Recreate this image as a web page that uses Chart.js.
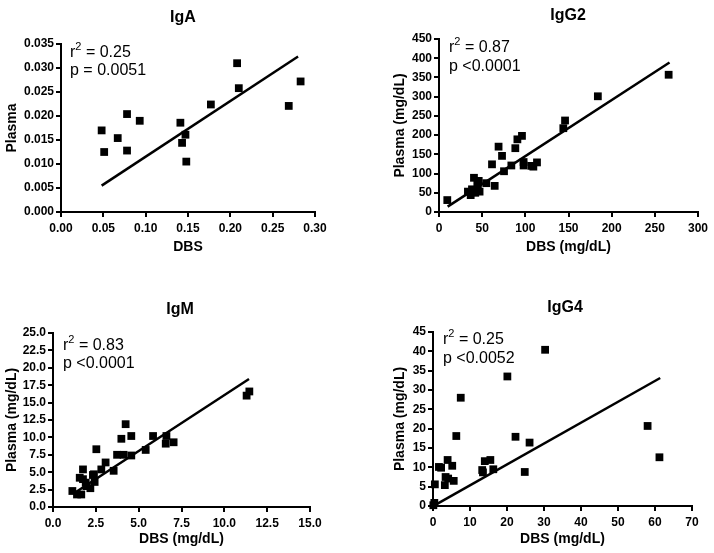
<!DOCTYPE html>
<html>
<head>
<meta charset="utf-8">
<script src="https://cdn.jsdelivr.net/npm/chart.js@4.4.1/dist/chart.umd.min.js"></script>
<style>
  body { margin: 0; background: #fff; width: 714px; height: 553px; position: relative; overflow: hidden; }
  canvas { position: absolute; }
</style>
</head>
<body>
<canvas id="cIgA" width="345" height="270" style="left:0;top:0"></canvas>
<canvas id="cIgG2" width="326" height="270" style="left:388px;top:0"></canvas>
<canvas id="cIgM" width="345" height="273" style="left:0;top:280px"></canvas>
<canvas id="cIgG4" width="326" height="273" style="left:388px;top:280px"></canvas>
<script>
// IgA
const igaDbs = [0.048, 0.051, 0.067, 0.078, 0.078, 0.093, 0.141, 0.147, 0.143, 0.148, 0.177, 0.208, 0.210, 0.269, 0.283];
const igaPlasma = [0.0170, 0.0125, 0.0154, 0.0204, 0.0128, 0.0190, 0.0186, 0.0161, 0.0144, 0.0105, 0.0224, 0.0310, 0.0258, 0.0221, 0.0272];
const igaFitX = [0.048, 0.280];
const igaFitY = [0.0055, 0.0324];

// IgG2
const igg2Dbs = [9.6, 33.5, 36.7, 38.2, 40.5, 42, 44.4, 46, 47, 45, 54.8, 61.4, 64.5, 69, 73, 75.3, 83.8, 88.4, 90.8, 96.1, 98, 98, 107, 109.3, 113.5, 144, 146, 184, 266];
const igg2Plasma = [31, 53, 44, 59, 89, 50, 73, 81, 53, 66, 75, 124, 68, 170, 146, 106, 121, 166, 189, 198, 130, 121, 120, 118, 129, 218, 238, 301, 357];
const igg2FitX = [10, 267];
const igg2FitY = [14, 389];

// IgM
const igmDbs = [1.13, 1.40, 1.65, 1.56, 1.75, 1.75, 1.91, 1.95, 2.18, 2.33, 2.43, 2.53, 2.39, 2.82, 3.07, 3.54, 3.74, 3.99, 4.12, 4.24, 4.57, 4.57, 5.41, 5.84, 6.58, 6.62, 7.04, 11.30, 11.46];
const igmPlasma = [2.3, 1.8, 1.8, 4.2, 5.4, 4.0, 3.5, 3.0, 2.7, 4.6, 3.6, 8.3, 4.7, 5.4, 6.4, 5.2, 7.5, 9.8, 7.5, 11.9, 10.2, 7.4, 8.2, 10.2, 9.1, 10.2, 9.3, 16.0, 16.6];
const igmFitX = [1.34, 11.44];
const igmFitY = [2.16, 18.4];

// IgG4
const igg4Dbs = [0.36, 0.1, 0.5, 1.6, 2.2, 3.4, 3.2, 3.95, 4.1, 5.2, 5.6, 6.3, 7.5, 13.3, 13.5, 14.0, 15.5, 16.3, 20.1, 22.3, 24.8, 26.1, 30.3, 58.0, 61.2];
const igg4Plasma = [0.8, 0.2, 5.6, 10.1, 9.9, 7.5, 5.4, 11.9, 7.1, 10.4, 6.5, 18.1, 28.0, 9.3, 8.7, 11.6, 11.9, 9.5, 33.5, 17.9, 8.8, 16.4, 40.4, 20.7, 12.6];
const igg4FitX = [0.4, 61.4];
const igg4FitY = [0.17, 33.1];

const FONT = '"Liberation Sans", Arial, Helvetica, sans-serif';

// titles, r2 and p drawn on top of each panel
const notePlugin = {
  id: 'notes',
  afterDraw(chart, args, o) {
    const { ctx, chartArea: a } = chart;
    ctx.save();
    ctx.fillStyle = '#000';
    ctx.textBaseline = 'middle';
    ctx.textAlign = 'center';
    ctx.font = 'bold 16px ' + FONT;
    ctx.fillText(o.title, o.titleX, o.titleY);

    ctx.textAlign = 'left';
    const x = a.left + o.dx;
    const y = a.top + o.dy;
    ctx.font = '16px ' + FONT;
    ctx.fillText('r', x, y);
    const w = ctx.measureText('r').width;
    ctx.font = '11px ' + FONT;
    ctx.fillText('2', x + w, y - 6);
    const w2 = ctx.measureText('2').width;
    ctx.font = '16px ' + FONT;
    ctx.fillText(' = ' + o.r2, x + w + w2, y);
    ctx.fillText(o.p, x, y + o.gap);
    ctx.restore();
  }
};

function pairs(xs, ys) {
  return xs.map((x, i) => ({ x: x, y: ys[i] }));
}

function axis(opts) {
  return {
    type: 'linear',
    min: opts.min,
    max: opts.max,
    border: { display: true, color: '#000', width: 2 },
    grid: { drawOnChartArea: false, drawTicks: true, tickLength: 5, color: '#000', lineWidth: 2 },
    ticks: {
      stepSize: opts.step,
      color: '#000',
      padding: opts.tickPad,
      maxRotation: 0,
      autoSkip: false,
      font: { family: FONT, size: 12, weight: 'bold' },
      callback: (v) => v.toFixed(opts.dec)
    },
    title: {
      display: true,
      text: opts.title,
      color: '#000',
      font: { family: FONT, size: 14, weight: 'bold' },
      padding: opts.titlePad
    },
    afterFit: opts.fit
  };
}

function makePanel(id, cfg) {
  new Chart(document.getElementById(id), {
    type: 'scatter',
    data: {
      datasets: [
        {
          data: pairs(cfg.xs, cfg.ys),
          pointStyle: 'rect',
          pointRadius: 5.5,
          pointHoverRadius: 5.5,
          backgroundColor: '#000',
          borderColor: '#000',
          borderWidth: 0,
          clip: false
        },
        {
          data: pairs(cfg.fitX, cfg.fitY),
          showLine: true,
          borderColor: '#000',
          borderWidth: 2.5,
          pointRadius: 0,
          clip: false
        }
      ]
    },
    options: {
      responsive: false,
      animation: false,
      layout: { padding: { top: cfg.area.top, right: cfg.area.right, left: 0, bottom: 0 } },
      plugins: {
        legend: { display: false },
        tooltip: { enabled: false },
        notes: cfg.note
      },
      scales: {
        x: axis({
          min: cfg.x.min, max: cfg.x.max, step: cfg.x.step, dec: cfg.x.dec, tickPad: 4,
          title: cfg.x.title, titlePad: { top: 2, bottom: cfg.x.titleBottom },
          fit: (s) => { s.height = cfg.area.h - cfg.area.bottom; }
        }),
        y: axis({
          min: cfg.y.min, max: cfg.y.max, step: cfg.y.step, dec: cfg.y.dec, tickPad: 2,
          title: cfg.y.title, titlePad: { top: 3.6, bottom: 2 },
          fit: (s) => { s.width = cfg.area.left; }
        })
      }
    },
    plugins: [notePlugin]
  });
}

makePanel('cIgA', {
  xs: igaDbs, ys: igaPlasma, fitX: igaFitX, fitY: igaFitY,
  area: { left: 61, right: 30, top: 44, bottom: 212, h: 270 },
  x: { min: 0, max: 0.30, step: 0.05, dec: 2, title: 'DBS', titleBottom: 14.6 },
  y: { min: 0, max: 0.035, step: 0.005, dec: 3, title: 'Plasma' },
  note: { title: 'IgA', titleX: 183, titleY: 18, dx: 9, dy: 9, gap: 18, r2: '0.25', p: 'p = 0.0051' }
});

makePanel('cIgG2', {
  xs: igg2Dbs, ys: igg2Plasma, fitX: igg2FitX, fitY: igg2FitY,
  area: { left: 51, right: 16, top: 39, bottom: 212, h: 270 },
  x: { min: 0, max: 300, step: 50, dec: 0, title: 'DBS (mg/dL)', titleBottom: 14.6 },
  y: { min: 0, max: 450, step: 50, dec: 0, title: 'Plasma (mg/dL)' },
  note: { title: 'IgG2', titleX: 180, titleY: 16, dx: 10, dy: 9, gap: 19, r2: '0.87', p: 'p <0.0001' }
});

makePanel('cIgM', {
  xs: igmDbs, ys: igmPlasma, fitX: igmFitX, fitY: igmFitY,
  area: { left: 53, right: 35, top: 53, bottom: 227, h: 273 },
  x: { min: 0, max: 15, step: 2.5, dec: 1, title: 'DBS (mg/dL)', titleBottom: 5.6 },
  y: { min: 0, max: 25, step: 2.5, dec: 1, title: 'Plasma (mg/dL)' },
  note: { title: 'IgM', titleX: 180, titleY: 30, dx: 10, dy: 13, gap: 18, r2: '0.83', p: 'p <0.0001' }
});

makePanel('cIgG4', {
  xs: igg4Dbs, ys: igg4Plasma, fitX: igg4FitX, fitY: igg4FitY,
  area: { left: 45, right: 22, top: 52, bottom: 226, h: 273 },
  x: { min: 0, max: 70, step: 10, dec: 0, title: 'DBS (mg/dL)', titleBottom: 5.6 },
  y: { min: 0, max: 45, step: 5, dec: 0, title: 'Plasma (mg/dL)' },
  note: { title: 'IgG4', titleX: 177, titleY: 28, dx: 10, dy: 8, gap: 19, r2: '0.25', p: 'p <0.0052' }
});
</script>
</body>
</html>
